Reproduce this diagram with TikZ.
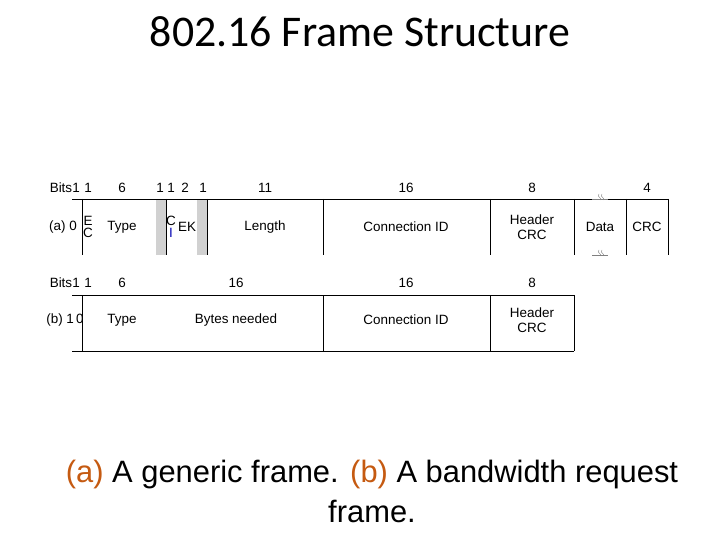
\documentclass[tikz,border=0pt]{standalone}
\usepackage{fontspec}
\setmainfont{Liberation Sans}
\newfontfamily\titlefont{Carlito}
\usetikzlibrary{positioning}
\definecolor{capcol}{HTML}{C55A11}
\tikzset
{
    field/.style = {font=\fontsize{13.5}{15}\selectfont, align=center, inner sep=0pt},
    bits/.style  = {font=\fontsize{13.5}{15}\selectfont, inner sep=0pt},
    frameline/.style = {draw=black, line width=0.6pt},
    graybar/.style = {fill=black!18, draw=none},
    breakmark/.style = {draw=black!50, line width=0.4pt}
}
\begin{document}
\begin{tikzpicture}[x=1bp, y=-1bp]
   \useasboundingbox (0,0) rectangle (720,540);

   \node (title) [font=\titlefont\fontsize{44}{48}\selectfont] at (360,32) {802.16 Frame Structure};

   % frame (a)
   \fill[graybar] (156,199) rectangle (166,255);
   \fill[graybar] (197,199) rectangle (207,255);
   \draw[frameline] (72,199) -- (668,199);
   \foreach \x in {82,166,207,323,490,574,626,668}
      \draw[frameline] (\x,199) -- (\x,255);

   \node (abits) [bits] at (61,188) {Bits};
   \foreach \x/\t in {76/1,88/1,122/6,160/1,171/1,185/2,203/1,265/11,406/16,532/8,647/4}
      \node [bits] at (\x,188) {\t};

   \node (alab)  [field] at (63,227) {(a) 0};
   \node (aec)   [field] at (88,227) {E\\[-3pt]C};
   \node (atype) [field] at (122,227) {Type};
   \node (aci)   [field] at (171,227) {C\\[-3pt]\textcolor{blue!70!black}{I}};
   \node (aek)   [field] at (187,227) {EK};
   \node (alen)  [field] at (265,227) {Length};
   \node (acid)  [field] at (406,227) {Connection ID};
   \node (ahcrc) [field] at (532,227) {Header\\CRC};
   \node (adata) [field] at (600,227) {Data};
   \node (acrc)  [field] at (647,227) {CRC};

   % break marks on data field
   \foreach \y in {199,255} {
      \draw[breakmark] (592,\y) -- (608,\y);
      \draw[breakmark] (599,\y-5) .. controls (596,\y-2) and (603,\y-1) .. (600,\y+1);
      \draw[breakmark] (602,\y-5) .. controls (599,\y-2) and (606,\y-1) .. (603,\y+1);
   }

   % frame (b)
   \draw[frameline] (72,295) -- (574,295);
   \draw[frameline] (72,351) -- (574,351);
   \foreach \x in {82,323,490,574}
      \draw[frameline] (\x,295) -- (\x,351);

   \node (bbits) [bits] at (61,283) {Bits};
   \foreach \x/\t in {76/1,88/1,122/6,236/16,406/16,532/8}
      \node [bits] at (\x,283) {\t};

   \node (blab)  [field] at (65,320) {(b) 1\,0};
   \node (btype) [field] at (122,320) {Type};
   \node (bneed) [field] at (236,320) {Bytes needed};
   \node (bcid)  [field] at (406,320) {Connection ID};
   \node (bhcrc) [field] at (532,320) {Header\\CRC};

   % caption
   \node (cap1) [font=\fontsize{31}{35}\selectfont] at (372,475)
      {\textcolor{capcol}{(a)} A generic frame. \textcolor{capcol}{(b)} A bandwidth request};
   \node (cap2) [font=\fontsize{31}{35}\selectfont, below=4bp of cap1] {frame.};
\end{tikzpicture}
\end{document}
